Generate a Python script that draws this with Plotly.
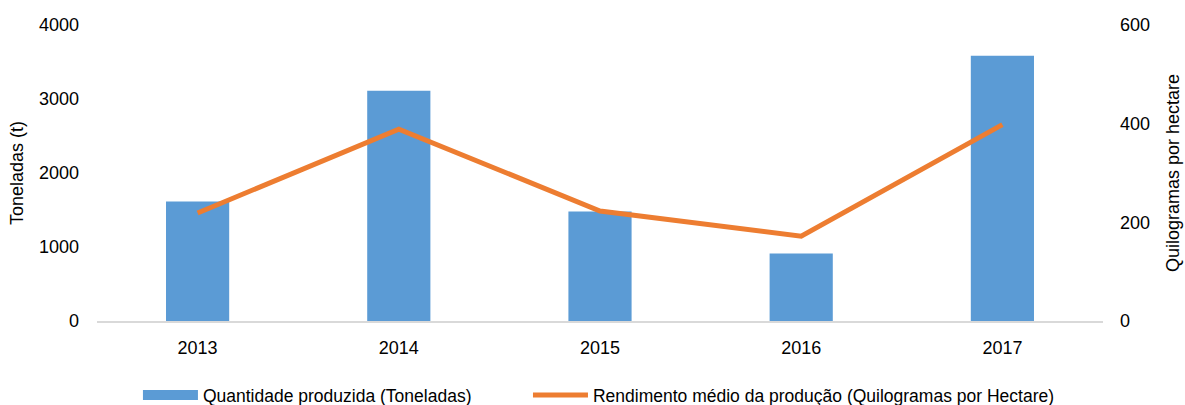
import plotly.graph_objects as go

years = ["2013", "2014", "2015", "2016", "2017"]
quantidade = [1615, 3110, 1480, 912, 3585]
rendimento = [219, 389, 223, 172, 398]

name_bar = "Quantidade produzida (Toneladas)"
name_line = "Rendimento médio da produção (Quilogramas por Hectare)"

FONT = "Liberation Sans, Arial, sans-serif"
FS = 18
BLUE = "#5B9BD5"
ORANGE = "#ED7D31"

fig = go.Figure()
fig.add_trace(go.Bar(
    x=years, y=quantidade, name=name_bar, showlegend=False,
    marker=dict(color=BLUE, line=dict(width=0)), yaxis="y",
))
# legend swatch for the bars (wide rectangle, as in the original)
fig.add_trace(go.Scatter(
    x=[None], y=[None], name=name_bar, mode="lines",
    line=dict(color=BLUE, width=12), legend="legend", hoverinfo="skip",
))
fig.add_trace(go.Scatter(
    x=years, y=rendimento, name=name_line, legend="legend2",
    mode="lines", line=dict(color=ORANGE, width=5), yaxis="y2",
))

leg_common = dict(orientation="h", y=-0.25, yanchor="middle", xanchor="left",
                  font=dict(size=17.5), itemwidth=55, bgcolor="rgba(0,0,0,0)")

fig.update_layout(
    width=1185, height=405,
    margin=dict(l=97, r=82, t=25, b=84, autoexpand=False),
    paper_bgcolor="white", plot_bgcolor="white",
    font=dict(family=FONT, size=FS, color="#000000"),
    bargap=0.686,
    showlegend=True,
    legend=dict(x=0.0407, **leg_common),
    legend2=dict(x=0.4284, **leg_common),
    xaxis=dict(type="category", showgrid=False, showline=True, linecolor="#D9D9D9",
               linewidth=2, ticks="", tickfont=dict(size=FS), ticklabelstandoff=9,
               automargin=False),
    yaxis=dict(range=[0, 4000], tickvals=[0, 1000, 2000, 3000, 4000], showgrid=False,
               zeroline=False, showline=False, ticks="", tickfont=dict(size=FS),
               ticklabelstandoff=17, automargin=False,
               title=dict(text="Toneladas (t)", font=dict(size=FS), standoff=10)),
    yaxis2=dict(range=[0, 600], tickvals=[0, 200, 400, 600], overlaying="y", side="right",
                showgrid=False, zeroline=False, showline=False, ticks="",
                tickfont=dict(size=FS), ticklabelstandoff=16, automargin=False,
                title=dict(text="Quilogramas por hectare", font=dict(size=FS), standoff=17)),
)

fig.write_html("out.html", config={"displayModeBar": False},
               post_script="document.body.style.margin='0';")
